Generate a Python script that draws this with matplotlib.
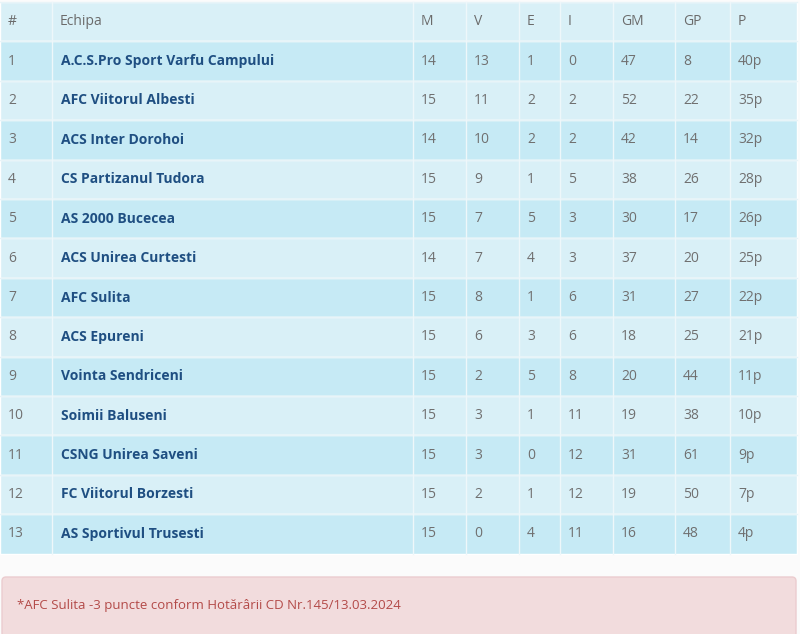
import matplotlib.pyplot as plt
from matplotlib.patches import Rectangle, FancyBboxPatch

plt.rcParams['font.family'] = ['Open Sans', 'DejaVu Sans']

headers = ['#', 'Echipa', 'M', 'V', 'E', 'I', 'GM', 'GP', 'P']
teams = ['A.C.S.Pro Sport Varfu Campului', 'AFC Viitorul Albesti', 'ACS Inter Dorohoi',
         'CS Partizanul Tudora', 'AS 2000 Bucecea', 'ACS Unirea Curtesti', 'AFC Sulita',
         'ACS Epureni', 'Vointa Sendriceni', 'Soimii Baluseni', 'CSNG Unirea Saveni',
         'FC Viitorul Borzesti', 'AS Sportivul Trusesti']
played = [14, 15, 14, 15, 15, 14, 15, 15, 15, 15, 15, 15, 15]
wins = [13, 11, 10, 9, 7, 7, 8, 6, 2, 3, 3, 2, 0]
draws = [1, 2, 2, 1, 5, 4, 1, 3, 5, 1, 0, 1, 4]
losses = [0, 2, 2, 5, 3, 3, 6, 6, 8, 11, 12, 12, 11]
goals_for = [47, 52, 42, 38, 30, 37, 31, 18, 20, 19, 31, 19, 16]
goals_against = [8, 22, 14, 26, 17, 20, 27, 25, 44, 38, 61, 50, 48]
points = ['40p', '35p', '32p', '28p', '26p', '25p', '22p', '21p', '11p', '10p', '9p', '7p', '4p']
note = '*AFC Sulita -3 puncte conform Hotărârii CD Nr.145/13.03.2024'

# pixel layout
col_sep = [0, 52, 413, 466, 519, 560, 613, 675, 730, 797]
top, row_h = 2, 39.4

fig = plt.figure(figsize=(8, 6.34), dpi=100)
ax = fig.add_axes([0, 0, 1, 1])
ax.set_xlim(0, 800)
ax.set_ylim(634, 0)
ax.axis('off')
fig.patch.set_facecolor('#fbfbfb')

odd_c, even_c = '#c6eaf5', '#d9f0f7'
for r in range(len(teams) + 1):
    y0 = top + r * row_h
    color = even_c if r % 2 == 0 else odd_c
    ax.add_patch(Rectangle((0, y0), col_sep[-1], row_h, facecolor=color,
                           edgecolor='#ffffff', linewidth=1))
    ax.plot([0, col_sep[-1]], [y0, y0], color='#e8f4f8', lw=1)
    for x in col_sep[1:-1]:
        ax.plot([x, x], [y0, y0 + row_h], color='#eef7fa', lw=1)

for c, h in enumerate(headers):
    ax.text(col_sep[c] + 8, top + row_h / 2, h, ha='left', va='center',
            fontsize=10, color='#6b6b6b')

for i, team in enumerate(teams):
    yc = top + (i + 1) * row_h + row_h / 2
    vals = [i + 1, team, played[i], wins[i], draws[i], losses[i],
            goals_for[i], goals_against[i], points[i]]
    for c, v in enumerate(vals):
        if c == 1:
            ax.text(col_sep[c] + 9, yc, v, ha='left', va='center', fontsize=10,
                    fontweight='bold', color='#1f4f82')
        else:
            ax.text(col_sep[c] + 8, yc, str(v), ha='left', va='center',
                    fontsize=10, color='#707070')

ax.add_patch(FancyBboxPatch((2, 577), 794, 60, boxstyle='round,pad=0,rounding_size=4',
                            facecolor='#f2dcdd', edgecolor='#ebcccf', linewidth=1))
ax.text(17, 605, note, ha='left', va='center', fontsize=9.5, color='#b34a48')

fig.savefig('out.png', dpi=100, facecolor=fig.get_facecolor())
